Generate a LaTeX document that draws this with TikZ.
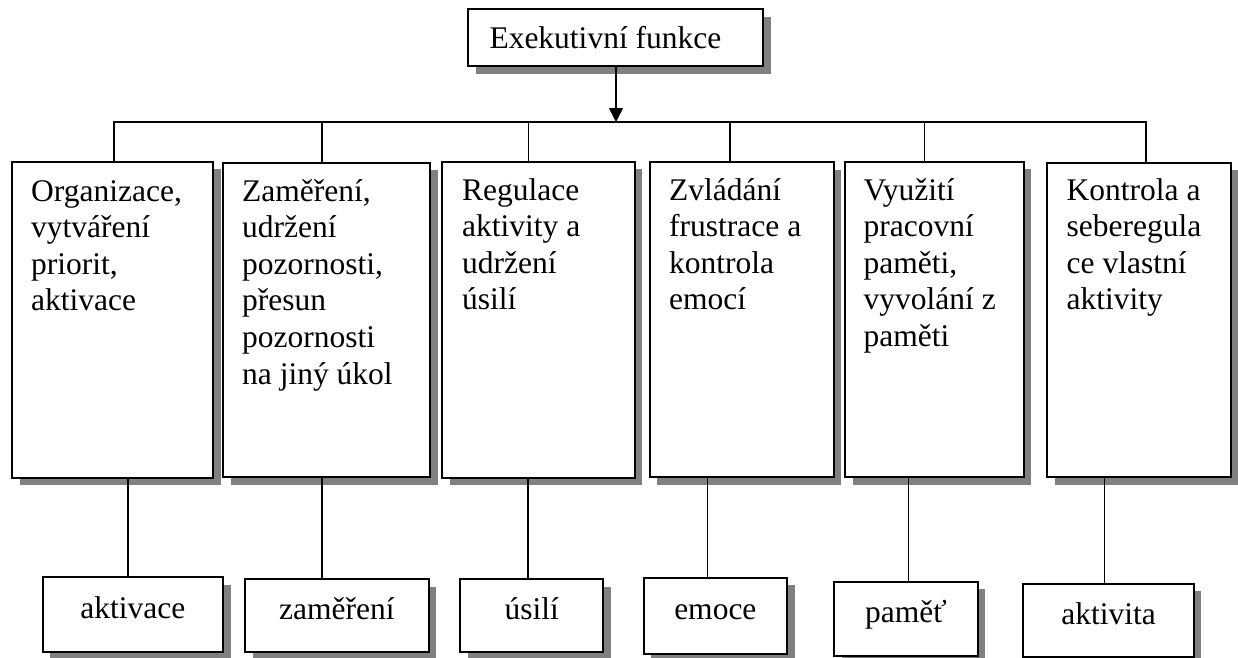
\documentclass[tikz,border=0pt]{standalone}
\usepackage{fontspec}
\setmainfont{Liberation Serif}
\usetikzlibrary{shadows,arrows.meta}
\begin{document}
\begin{tikzpicture}[x=1pt,y=-1pt,
  shadowed/.style={draw=black, line width=2pt, fill=white, inner sep=0pt, anchor=north west,
    drop shadow={shadow xshift=7.5pt, shadow yshift=-7.5pt, fill=black!50, opacity=1}},
  bigtext/.style={font=\fontsize{31.5}{36.6}\selectfont, inner sep=0pt, anchor=base west},
  smallbox/.style={shadowed, font=\fontsize{31.5}{36.6}\selectfont, text height=20pt, text depth=12pt},
  conn/.style={line width=1.6pt, draw=black}
]
\useasboundingbox (0,0) rectangle (1238,657);

% top box
\node[shadowed, minimum width=294.7pt, minimum height=57pt] (top) at (467.3,8) {};
\node[bigtext] (toptext) at (489.3,48.3) {Exekutivní funkce};

% big boxes
\node[shadowed, minimum width=201pt,   minimum height=316pt]   (b1) at (11,160.7) {};
\node[shadowed, minimum width=207pt,   minimum height=314.5pt] (b2) at (222,161.5) {};
\node[shadowed, minimum width=192.7pt, minimum height=316pt]   (b3) at (441,160.7) {};
\node[shadowed, minimum width=184pt,   minimum height=315pt]   (b4) at (648.7,161) {};
\node[shadowed, minimum width=178.4pt, minimum height=315.3pt] (b5) at (844.3,160.7) {};
\node[shadowed, minimum width=184pt,   minimum height=314.3pt] (b6) at (1046,161.7) {};

\node[bigtext] (t1) at (31,201) {\parbox[t]{190pt}{Organizace,\\vytváření\\priorit,\\aktivace}};
\node[bigtext] (t2) at (242,201) {\parbox[t]{190pt}{Zaměření,\\udržení\\pozornosti,\\přesun\\pozornosti\\na jiný úkol}};
\node[bigtext] (t3) at (462,200) {\parbox[t]{190pt}{Regulace\\aktivity a\\udržení\\úsilí}};
\node[bigtext] (t4) at (669,200) {\parbox[t]{190pt}{Zvládání\\frustrace a\\kontrola\\emocí}};
\node[bigtext] (t5) at (863.5,200) {\parbox[t]{190pt}{Využití\\pracovní\\paměti,\\vyvolání z\\paměti}};
\node[bigtext] (t6) at (1066.5,200) {\parbox[t]{190pt}{Kontrola a\\seberegula\\ce vlastní\\aktivity}};

% small boxes
\node[smallbox, minimum width=180.3pt, minimum height=74.7pt] (s1) at (41.7,576) {aktivace};
\node[smallbox, minimum width=183.7pt, minimum height=72.7pt] (s2) at (244,578) {zaměření};
\node[smallbox, minimum width=143.3pt, minimum height=72.4pt] (s3) at (459,578.3) {úsilí};
\node[smallbox, minimum width=143.3pt, minimum height=76pt]   (s4) at (642.7,576.7) {emoce};
\node[smallbox, minimum width=143.4pt, minimum height=74.3pt] (s5) at (833.3,580.7) {paměť};
\node[smallbox, minimum width=170.4pt, minimum height=73.3pt] (s6) at (1022.3,582.7) {aktivita};

% bus
\coordinate (busL) at (113,122);
\coordinate (busR) at (1146.5,122);
\coordinate (arr) at (616,122);
\draw[conn] (busL) -- (busR);
\draw[conn, -{Triangle[width=14pt,length=14pt]}] (arr |- top.south) -- (arr);

\coordinate (j1) at (114,122);
\coordinate (j2) at (322,122);
\coordinate (j3) at (528.3,122);
\coordinate (j4) at (730,122);
\coordinate (j5) at (924.3,122);
\coordinate (j6) at (1146,122);
\foreach \i in {1,...,6} {\draw[conn] (j\i) -- (j\i |- b\i.north);}

% lower connectors
\coordinate (c1) at (127.7,0);
\coordinate (c2) at (322,0);
\coordinate (c3) at (527.7,0);
\coordinate (c4) at (707.3,0);
\coordinate (c5) at (908.3,0);
\coordinate (c6) at (1104.3,0);
\foreach \i in {1,...,6} {\draw[conn] (c\i |- b\i.south) -- (c\i |- s\i.north);}
\end{tikzpicture}
\end{document}
